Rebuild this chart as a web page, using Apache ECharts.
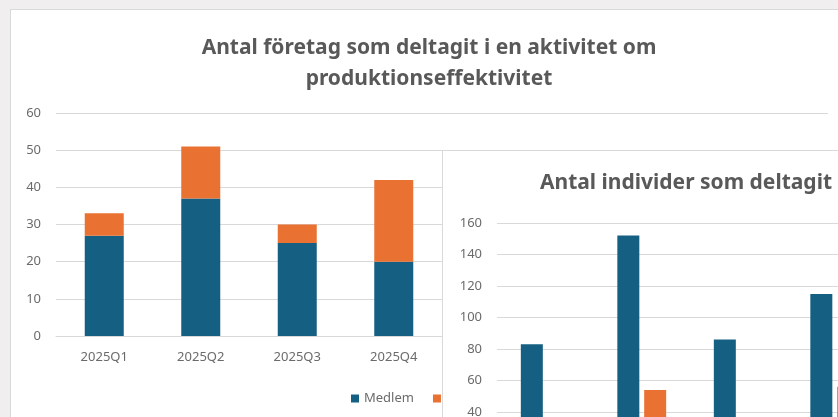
<!DOCTYPE html>
<html>
<head>
<meta charset="utf-8">
<script src="https://cdn.jsdelivr.net/npm/echarts@6/dist/echarts.min.js"></script>
<style>
  html, body { margin: 0; padding: 0; width: 838px; height: 417px; overflow: hidden; background: #f0eeee; }
  .card { position: absolute; background: #fff; border: 1px solid #d9d9d9; box-sizing: border-box; }
  #companies { left: 10px; top: 9px; width: 838px; height: 420px; }
  #individuals { left: 442px; top: 150px; width: 460px; height: 360px; }
</style>
</head>
<body>
<div class="card" id="companies"></div>
<div class="card" id="individuals"></div>
<script>
// Företag: quarters (last four are hidden behind the second chart)
const companyQuarters = ["2025Q1", "2025Q2", "2025Q3", "2025Q4", "2026Q1", "2026Q2", "2026Q3", "2026Q4"];
const companyMembers = [27, 37, 25, 20, null, null, null, null];
const companyNonMembers = [6, 14, 5, 22, null, null, null, null];

// Individer
const individualQuarters = ["2025Q1", "2025Q2", "2025Q3", "2025Q4"];
const individualMembers = [83, 152, 86, 115];
const individualNonMembers = [20, 54, 15, 56];

const seriesNames = ["Medlem", "Icke medlem"];
const BLUE = "#156082";
const ORANGE = "#e97132";
const GRID_LINE = "#d9d9d9";
const LABEL = "#595959";
const TICK = "#6b6b6b";
const FONT = "Noto Sans";

function valueAxis(max, interval) {
  return {
    type: "value",
    min: 0,
    max,
    interval,
    axisLabel: { color: TICK, fontSize: 13, fontFamily: FONT, margin: 15 },
    axisLine: { show: false },
    axisTick: { show: false },
    splitLine: { lineStyle: { color: GRID_LINE, width: 1 } },
  };
}

function categoryAxis(data) {
  return {
    type: "category",
    data,
    axisLabel: { color: TICK, fontSize: 13, fontFamily: FONT, margin: 15 },
    axisLine: { lineStyle: { color: GRID_LINE } },
    axisTick: { show: false },
  };
}

const companiesChart = echarts.init(document.getElementById("companies"), null, { renderer: "canvas" });
companiesChart.setOption({
  animation: false,
  title: {
    text: "Antal företag som deltagit i en aktivitet om\nproduktionseffektivitet",
    left: "center",
    top: 18,
    textStyle: { color: LABEL, fontSize: 21, fontWeight: "bold", fontFamily: FONT, lineHeight: 31 },
  },
  legend: {
    left: 335,
    top: 377,
    itemWidth: 8,
    itemHeight: 8,
    itemGap: 19,
    icon: "rect",
    textStyle: { color: TICK, fontSize: 13, fontFamily: FONT },
  },
  grid: { left: 45, top: 103, width: 772, height: 223 },
  xAxis: categoryAxis(companyQuarters),
  yAxis: valueAxis(60, 10),
  series: [
    { name: seriesNames[0], type: "bar", stack: "total", barWidth: 39, data: companyMembers, itemStyle: { color: BLUE } },
    { name: seriesNames[1], type: "bar", stack: "total", barWidth: 39, data: companyNonMembers, itemStyle: { color: ORANGE } },
  ],
});

const individualsChart = echarts.init(document.getElementById("individuals"), null, { renderer: "canvas" });
individualsChart.setOption({
  animation: false,
  title: {
    text: "Antal individer som deltagit i en aktivitet om produktionseffektivitet",
    left: 92,
    top: 17,
    textStyle: { color: LABEL, fontSize: 21, fontWeight: "bold", fontFamily: FONT },
  },
  grid: { left: 54, top: 72, width: 386, height: 252 },
  xAxis: categoryAxis(individualQuarters),
  yAxis: valueAxis(160, 20),
  series: [
    { name: seriesNames[0], type: "bar", barWidth: 22, barGap: "22%", data: individualMembers, itemStyle: { color: BLUE } },
    { name: seriesNames[1], type: "bar", barWidth: 22, barGap: "22%", data: individualNonMembers, itemStyle: { color: ORANGE } },
  ],
});
</script>
</body>
</html>
